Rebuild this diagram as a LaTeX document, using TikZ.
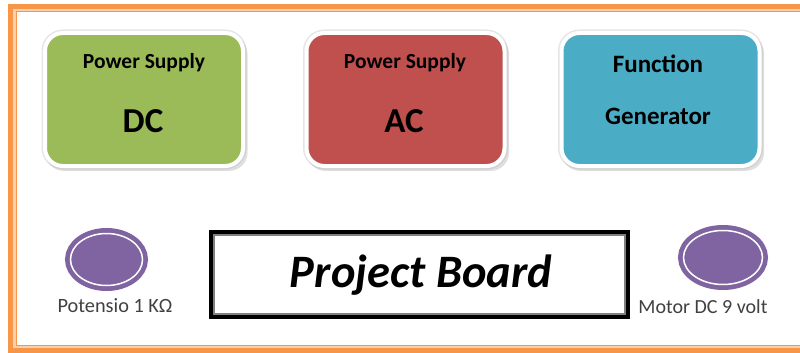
\documentclass[tikz,border=0pt]{standalone}
\usepackage{fontspec}
\setmainfont{Carlito}
\usetikzlibrary{shapes.geometric}
\usetikzlibrary{shadows}
\definecolor{dcgreen}{HTML}{9BBB59}
\definecolor{acred}{HTML}{C0504D}
\definecolor{fgblue}{HTML}{4BACC6}
\definecolor{knobpurple}{HTML}{8064A2}
\definecolor{frameorange}{HTML}{F79646}
\definecolor{framepale}{HTML}{FBD0AE}
\newcommand{\fsz}[1]{\fontsize{#1}{#1}\selectfont}
\begin{document}
\begin{tikzpicture}[x=1pt,y=-1pt,every node/.style={inner sep=0pt},
        supply/.style={rectangle,rounded corners=18pt,minimum width=198pt,minimum height=133pt,
                draw=white,line width=4pt,preaction={draw=black!10,line width=7pt},
                drop shadow={shadow xshift=2.5pt,shadow yshift=-3.5pt,shadow scale=1.02,fill=black!25}},
        head/.style={anchor=base,font=\bfseries\fsz{21.5}},
        big/.style={anchor=base,font=\bfseries\fsz{35}},
        knob/.style={ellipse,fill=knobpurple,draw=white,line width=1.5pt,
                preaction={draw=knobpurple,line width=11pt}},
        caption/.style={anchor=base,text=black!75,font=\fsz{20.3}}]
        \useasboundingbox (0,0) rectangle (800,353);
        \draw[framepale,line width=3pt] (14.5,10) rectangle (814,347);
        \draw[frameorange,line width=5pt] (10.5,6.5) rectangle (820,350);
        \draw[frameorange,line width=1.5pt] (16.5,11.5) rectangle (815,345.5);

        \node[supply,fill=dcgreen] (dc) at (144,99.5) {};
        \node[supply,fill=acred] (ac) at (405.5,99.5) {};
        \node[supply,fill=fgblue] (fg) at (660.5,99.5) {};
        \node[head] (dchead) at (144,68) {Power Supply};
        \node[big] (dcname) at (143,132) {DC};
        \node[head] (achead) at (405,68) {Power Supply};
        \node[big] (acname) at (404,132) {AC};
        \node[head,font=\bfseries\fsz{25}] (fghead) at (658,72) {Function};
        \node[head,font=\bfseries\fsz{25}] (fgname) at (658,124) {Generator};

        \node[draw=black,line width=4pt,minimum width=417pt,minimum height=85pt] (pb) at (419.5,274.5) {};
        \draw[black!50,line width=1.2pt] ([xshift=5pt,yshift=-5pt]pb.north west) rectangle ([xshift=-5pt,yshift=5pt]pb.south east);
        \node[anchor=base,font=\bfseries\itshape\fsz{46.5}] (pbname) at (421,287) {Project Board};

        \node[knob,minimum width=72pt,minimum height=52pt] (pot) at (106.5,259.5) {};
        \node[knob,minimum width=79pt,minimum height=54pt] (motor) at (723,257.5) {};
        \node[caption] (potname) at (115,312.5) {Potensio 1 KΩ};
        \node[caption,font=\fsz{20}] (motorname) at (703,313) {Motor DC 9 volt};
\end{tikzpicture}
\end{document}
